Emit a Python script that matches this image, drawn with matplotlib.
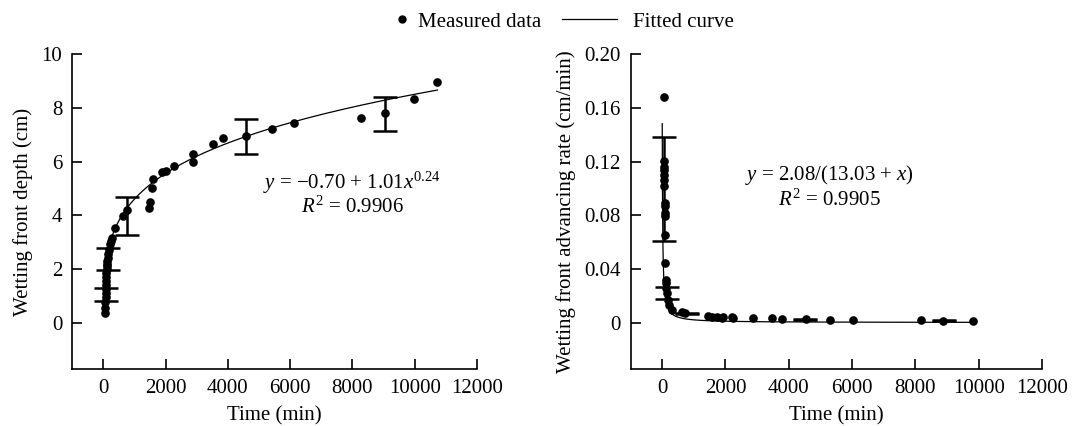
import matplotlib
matplotlib.use("Agg")
import matplotlib.pyplot as plt
from matplotlib.lines import Line2D
import numpy as np

plt.rcParams["font.family"] = ["Liberation Serif", "DejaVu Serif"]
plt.rcParams["font.size"] = 15
plt.rcParams["mathtext.fontset"] = "custom"
plt.rcParams["mathtext.rm"] = "Liberation Serif"
plt.rcParams["mathtext.it"] = "Liberation Serif:italic"

# Profondeur du front d'humidification (cm)
t_depth = [60, 65, 70, 75, 80, 85, 90, 95, 100, 105, 110, 118, 126, 136, 146, 160, 180, 210, 250, 290, 385,
           621, 779, 1474, 1505, 1581, 1612, 1900, 2009, 2274, 2893, 2898,
           3534, 3834, 4573, 5405, 6130, 8286, 9034, 9964, 10711]
depth = [0.35, 0.55, 0.75, 0.95, 1.1, 1.25, 1.4, 1.55, 1.7, 1.85, 2.0, 2.1, 2.2, 2.3, 2.4, 2.55, 2.7, 2.93, 3.05, 3.14, 3.52,
         3.99, 4.2, 4.26, 4.51, 5.0, 5.35, 5.6, 5.65, 5.84, 6.0, 6.29,
         6.67, 6.89, 6.97, 7.22, 7.45, 7.61, 7.8, 8.32, 8.97]
eb_t_depth = [100, 170, 779, 4573, 9034]
eb_depth = [1.05, 2.365, 3.97, 6.94, 7.78]
eb_depth_err = [0.23, 0.405, 0.72, 0.65, 0.62]

# Vitesse d'avancement du front (cm/min)
t_rate = [60, 64, 66, 67, 68, 70, 72, 74, 76, 78, 80, 87, 95, 112, 116, 128, 142, 170, 215, 300, 622, 726,
          1462, 1569, 1727, 1885, 1935, 2197, 2232, 2882, 3482, 3798, 4537, 5304, 6040, 8168, 8881, 9829]
rate = [0.168, 0.1207, 0.1158, 0.1138, 0.110, 0.1063, 0.1019, 0.0894, 0.087, 0.0815, 0.0795, 0.0653,
        0.0447, 0.0318, 0.0294, 0.0256, 0.0219, 0.0169, 0.0132, 0.0095, 0.0082, 0.0070,
        0.005, 0.004, 0.0045, 0.0037, 0.0045, 0.0045, 0.0037, 0.0035, 0.0033, 0.0025,
        0.0025, 0.002, 0.002, 0.002, 0.0015, 0.0013]
eb_t_rate = [65, 150, 791, 4523, 8912]
eb_rate = [0.0997, 0.0221, 0.0065, 0.0025, 0.0015]
eb_rate_err = [0.0389, 0.0047, 0.0004, 0.0002, 0.0002]

# Coefficients des courbes ajustées
a_depth, b_depth, c_depth = -0.70, 1.01, 0.24
a_rate, b_rate = 2.08, 13.03

fig = plt.figure(figsize=(10.72, 4.26), dpi=100)
ax1 = fig.add_axes([0.0672, 0.1331, 0.3778, 0.7394])
ax2 = fig.add_axes([0.5882, 0.1331, 0.3838, 0.7394])

x1 = np.linspace(1, 10730, 600)
ax1.plot(x1, a_depth + b_depth * x1 ** c_depth, color="k", lw=0.9, zorder=2)
ax1.errorbar(eb_t_depth, eb_depth, yerr=eb_depth_err, fmt="none", ecolor="k",
             elinewidth=1.8, capsize=8.5, capthick=1.8, zorder=3)
ax1.plot(t_depth, depth, "o", color="k", ms=5.2, zorder=4)

x2 = np.linspace(1, 9900, 4000)
ax2.plot(x2, a_rate / (b_rate + x2), color="k", lw=0.9, zorder=2)
ax2.errorbar(eb_t_rate, eb_rate, yerr=eb_rate_err, fmt="none", ecolor="k",
             elinewidth=1.8, capsize=8.5, capthick=1.8, zorder=3)
ax2.plot(t_rate, rate, "o", color="k", ms=5.2, zorder=4)

ax1.set_xlim(-1000, 12000)
ax1.set_ylim(-1.74, 10)
ax1.set_yticks([0, 2, 4, 6, 8, 10])
ax2.set_xlim(-1000, 12000)
ax2.set_ylim(-0.0348, 0.20)
ax2.set_yticks([0, 0.04, 0.08, 0.12, 0.16, 0.20])
ax2.set_yticklabels(["0", "0.04", "0.08", "0.12", "0.16", "0.20"])

for ax in (ax1, ax2):
    ax.set_xticks(range(0, 12001, 2000))
    ax.spines["top"].set_visible(False)
    ax.spines["right"].set_visible(False)
    ax.spines["left"].set_linewidth(1.2)
    ax.spines["bottom"].set_linewidth(1.2)
    ax.tick_params(direction="in", length=7, width=1.2, labelsize=15, pad=7)
    ax.set_xlabel("Time (min)", labelpad=6)

ax1.set_ylabel("Wetting front depth (cm)", labelpad=6)
ax2.set_ylabel("Wetting front advancing rate (cm/min)", labelpad=6)

ax1.text(7980, 5.2, r"$y$ = −0.70 + 1.01$x^{0.24}$", ha="center", va="center", fontsize=15)
ax1.text(8010, 4.31, r"$R^2$ = 0.9906", ha="center", va="center", fontsize=15)
ax2.text(5273, 0.110, r"$y$ = 2.08/(13.03 + $x$)", ha="center", va="center", fontsize=15)
ax2.text(5273, 0.0914, r"$R^2$ = 0.9905", ha="center", va="center", fontsize=15)

# Légende en deux morceaux pour coller le point au texte
h_pts = [Line2D([], [], ls="none", marker="o", color="k", ms=5)]
h_fit = [Line2D([], [], color="k", lw=0.9)]
leg1 = fig.legend(h_pts, ["Measured data"], loc="center left", bbox_to_anchor=(0.3694, 0.949),
                  frameon=False, handlelength=0.6, handletextpad=0.46, borderpad=0,
                  borderaxespad=0, fontsize=15)
fig.legend(h_fit, ["Fitted curve"], loc="center left", bbox_to_anchor=(0.5243, 0.949),
           frameon=False, handlelength=2.64, handletextpad=0.77, borderpad=0,
           borderaxespad=0, fontsize=15)

fig.savefig("out.png", dpi=100)
